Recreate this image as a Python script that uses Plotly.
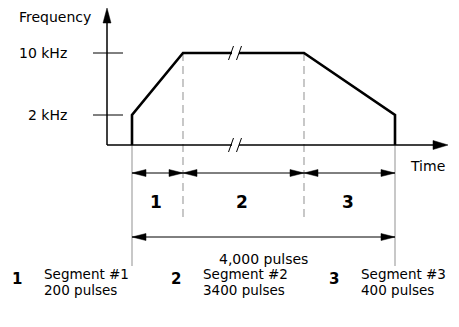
import plotly.graph_objects as go

# schematic profile: time axis is not to scale (it has a break in segment 2)
seg_edges = [25, 76, 197, 288]      # start, end of seg 1, end of seg 2, end of seg 3
freq_ticks = [30, 92]               # schematic heights of the two speed levels
freq_labels = ["2 kHz", "10 kHz"]
seg_numbers = ["1", "2", "3"]
seg_titles = ["Segment #1", "Segment #2", "Segment #3"]
seg_pulses = [200, 3400, 400]
break_at = 128                      # where the time axis is broken

FONT = "DejaVu Sans"
GRAY = "#a3a3a3"

fig = go.Figure()


def line(xs, ys, color="black", width=1, dash=None):
    fig.add_trace(go.Scatter(x=xs, y=ys, mode="lines", hoverinfo="skip",
                             line=dict(color=color, width=width, dash=dash)))


def head(tx, ty, dx, dy, length=14, half=3.5):
    # filled triangle, tip at (tx, ty), pointing along (dx, dy)
    bx, by = tx - dx * length, ty - dy * length
    px, py = -dy * half, dx * half
    fig.add_trace(go.Scatter(x=[tx, bx + px, bx - px, tx], y=[ty, by + py, by - py, ty],
                             mode="lines", fill="toself", fillcolor="black",
                             line=dict(color="black", width=0.5), hoverinfo="skip"))


def double_arrow(x0, x1, y):
    line([x0, x1], [y, y], width=1)
    head(x0, y, -1, 0)
    head(x1, y, 1, 0)


def text(x, y, s, size=14, xanchor="center", bold=False):
    fig.add_annotation(x=x, y=y, text=f"<b>{s}</b>" if bold else s, showarrow=False,
                       xanchor=xanchor, yanchor="middle", align="left",
                       font=dict(family=FONT, size=size, color="black"))


low, peak = freq_ticks
x_end = 341
y_top = 137

# guide lines under the axis
for x in (seg_edges[0], seg_edges[3]):
    line([x, x], [0, -121], color=GRAY, width=1.2)
for x in (seg_edges[1], seg_edges[2]):
    line([x, x], [peak, -73], color=GRAY, width=1.2, dash="8px,5px")

# axes
line([0, 0], [0, y_top - 10], width=1.5)
head(0, y_top, 0, 1, length=15, half=4)
line([0, x_end - 10], [0, 0], width=1.5)
head(x_end, 0, 1, 0, length=15, half=4.5)
for v in freq_ticks:
    line([-14, 16], [v, v], width=1)

# frequency profile
e = seg_edges
line([e[0], e[0], e[1], e[2], e[3], e[3]], [0, low, peak, peak, low, 0], width=2.6)

# axis breaks
for y, w in ((0, 1.5), (peak, 2.6)):
    line([break_at - 3, break_at + 4], [y, y], color="white", width=w + 2)
    for bx in (break_at - 4, break_at + 4):
        line([bx - 2.5, bx + 2.5], [y - 7, y + 7], width=1)

# segment arrows
for a, b in zip(e[:-1], e[1:]):
    double_arrow(a, b, -28)
double_arrow(e[0], e[3], -92)

# labels
text(-52, 128, "Frequency")
for v, s in zip(freq_ticks, freq_labels):
    text(-38, v, s, xanchor="right")
text(320, -21, "Time")
for a, b, n in zip(e[:-1], e[1:], seg_numbers):
    text((a + b) / 2 - 2, -57, n, size=17, bold=True)
text((e[0] + e[3]) / 2, -114, f"{sum(seg_pulses):,} pulses")

# legend below
leg_x = [-90, 69, 227]
for lx, n, t, p in zip(leg_x, seg_numbers, seg_titles, seg_pulses):
    text(lx, -134, n, size=15, bold=True)
    text(lx + 25, -129, t, size=13.5, xanchor="left")
    text(lx + 25, -145, f"{p} pulses", size=13.5, xanchor="left")

# the page body adds an 8px margin, so the figure is 8px smaller than the window
fig.update_layout(
    width=451, height=319,
    margin=dict(l=0, r=0, t=0, b=0),
    paper_bgcolor="white", plot_bgcolor="white",
    showlegend=False,
    xaxis=dict(range=[-99, 352], visible=False, fixedrange=True),
    yaxis=dict(range=[-182, 137], visible=False, fixedrange=True),
)

fig.write_html("out.html")
